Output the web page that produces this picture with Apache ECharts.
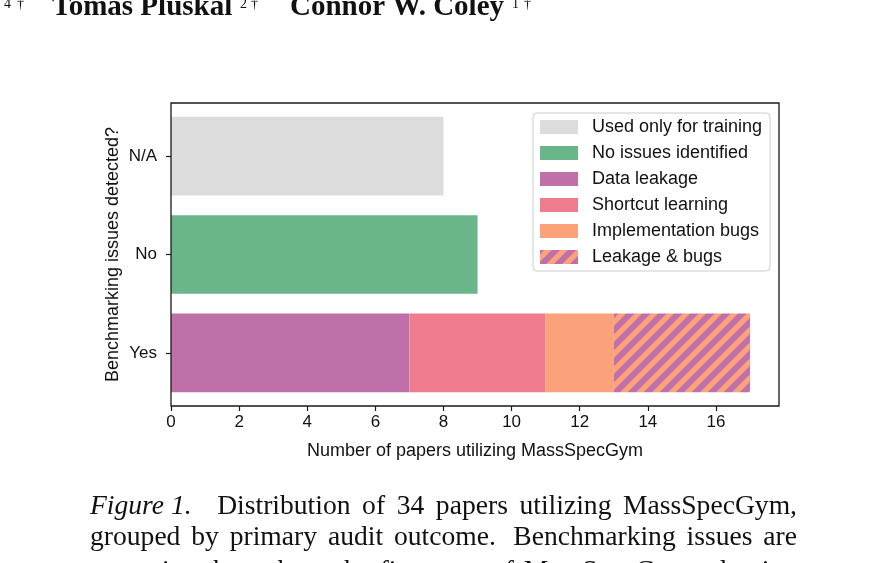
<!DOCTYPE html>
<html><head><meta charset="utf-8">
<script src="https://cdn.jsdelivr.net/npm/echarts@6/dist/echarts.min.js"></script>
<style>html,body{margin:0;padding:0;background:#fff;overflow:hidden}#c{width:883px;height:563px}</style>
</head><body><div id="c"></div>
<script>
// ---- data ----
const categories = ['Yes', 'No', 'N/A'];
const seriesNames = ['Used only for training', 'No issues identified', 'Data leakage', 'Shortcut learning', 'Implementation bugs', 'Leakage & bugs'];
const usedOnlyForTraining = [null, null, 8];
const noIssuesIdentified = [null, 9, null];
const dataLeakage = [7, null, null];
const shortcutLearning = [4, null, null];
const implementationBugs = [2, null, null];
const leakageAndBugs = [4, null, null];
const xTickValues = [0, 2, 4, 6, 8, 10, 12, 14, 16];
const xMin = 0, xMax = 17.85;
const xAxisTitle = 'Number of papers utilizing MassSpecGym';
const yAxisTitle = 'Benchmarking issues detected?';
const captionLines = [
  ['Figure 1.', 'Distribution', 'of', '34', 'papers', 'utilizing', 'MassSpecGym,'],
  ['grouped', 'by', 'primary', 'audit', 'outcome.', 'Benchmarking', 'issues', 'are'],
  ['pervasive', 'throughout', 'the', 'first', 'year', 'of', 'MassSpecGym', 'adoption']
];

// ---- style ----
const GRAY = '#dcdcdc', GREEN = '#6bb58b', PURPLE = '#c070a8', PINK = '#ef7b8e', ORANGE = '#fca27a';
const SANS = '"Liberation Sans", Arial, sans-serif';
const SERIF = '"Liberation Serif", "Times New Roman", serif';

function stripePattern() {
  const p = 16, c = document.createElement('canvas');
  c.width = p; c.height = p;
  const g = c.getContext('2d');
  g.fillStyle = ORANGE; g.fillRect(0, 0, p, p);
  g.strokeStyle = PURPLE; g.lineWidth = p / Math.SQRT2 * 0.52;
  for (let k = -2; k <= 2; k++) {
    g.beginPath(); g.moveTo(k * p - p, 2 * p); g.lineTo(k * p + 2 * p, -p); g.stroke();
  }
  return { image: c, repeat: 'repeat' };
}

const colors = [GRAY, GREEN, PURPLE, PINK, ORANGE, stripePattern()];
const values = [usedOnlyForTraining, noIssuesIdentified, dataLeakage, shortcutLearning, implementationBugs, leakageAndBugs];

// ---- caption justification ----
const mctx = document.createElement('canvas').getContext('2d');
function measure(t, font) { mctx.font = font; return mctx.measureText(t).width; }
const graphics = [];
const capSize = 27.6, capLeft = 90, capRight = 797;
const capY = [507, 538, 572];
captionLines.forEach((words, li) => {
  const fonts = words.map((w, i) => (li === 0 && i === 0 ? 'italic ' : '') + capSize + 'px ' + SERIF);
  const widths = words.map((w, i) => measure(w, fonts[i]));
  const weights = words.slice(1).map((w, i) => {
    const prev = words[i];
    if (li === 0 && i === 0) return 2.2;
    if (/\.$/.test(prev)) return 1.6;
    return 1;
  });
  const totalW = widths.reduce((a, b) => a + b, 0);
  const totalWeight = weights.reduce((a, b) => a + b, 0);
  const unit = (capRight - capLeft - totalW) / totalWeight;
  let x = capLeft;
  words.forEach((w, i) => {
    graphics.push({
      type: 'text', x: x, y: capY[li],
      style: { text: w, font: fonts[i], fill: '#111', verticalAlign: 'middle' }
    });
    x += widths[i] + (i < weights.length ? weights[i] * unit : 0);
  });
});

// header (cut-off author line)
const headerParts = [
  { t: '4', x: 4, sup: true }, { t: '†', x: 17, sup: true },
  { t: 'Tomas Pluskal', x: 52 }, { t: '2', x: 240, sup: true }, { t: '†', x: 251, sup: true },
  { t: 'Connor W. Coley', x: 290 }, { t: '1', x: 512, sup: true }, { t: '†', x: 524, sup: true }
];
headerParts.forEach(p => {
  graphics.push({
    type: 'text', x: p.x, y: p.sup ? 4 : 8,
    style: { text: p.t, font: (p.sup ? '' : 'bold ') + (p.sup ? 14 : 29) + 'px ' + SERIF, fill: '#111', verticalAlign: 'middle' }
  });
});

// plot frame
graphics.push({
  type: 'rect', z: 100, shape: { x: 171, y: 103, width: 608, height: 303 },
  style: { fill: null, stroke: '#1a1a1a', lineWidth: 1.3 }, silent: true
});

const chart = echarts.init(document.getElementById('c'), null, { renderer: 'canvas' });
chart.setOption({
  backgroundColor: '#fff',
  animation: false,
  textStyle: { fontFamily: SANS },
  grid: { left: 171, right: 104, top: 107, bottom: 161, containLabel: false },
  xAxis: {
    type: 'value', min: xMin, max: xMax, offset: 4,
    axisLine: { show: false },
    axisTick: { show: true, length: 5, customValues: xTickValues, lineStyle: { color: '#1a1a1a', width: 1.2 } },
    axisLabel: { fontSize: 17, color: '#111', margin: 8, fontFamily: SANS, customValues: xTickValues },
    splitLine: { show: false },
    name: xAxisTitle, nameLocation: 'middle', nameGap: 36,
    nameTextStyle: { fontSize: 18, color: '#111', fontFamily: SANS }
  },
  yAxis: {
    type: 'category', data: categories,
    axisLine: { show: false },
    axisTick: { show: true, length: 5, alignWithLabel: true, lineStyle: { color: '#1a1a1a', width: 1.2 } },
    axisLabel: { fontSize: 17, color: '#111', margin: 14, fontFamily: SANS },
    name: yAxisTitle, nameLocation: 'middle', nameGap: 49, nameMoveOverlap: false,
    nameTextStyle: { fontSize: 18, color: '#111', fontFamily: SANS }
  },
  legend: {
    orient: 'vertical', left: 533, top: 113,
    data: seriesNames,
    itemWidth: 38, itemHeight: 14, itemGap: 8,
    icon: 'rect',
    padding: [5, 8, 5, 7],
    backgroundColor: 'rgba(255,255,255,0.85)', borderColor: '#cccccc', borderWidth: 1, borderRadius: 4,
    textStyle: { fontSize: 18, color: '#111', fontFamily: SANS, padding: [0, 0, 0, 9] }
  },
  series: seriesNames.map((name, i) => ({
    name: name, type: 'bar', stack: 'total', barWidth: 78.7,
    data: values[i],
    itemStyle: { color: colors[i] },
    emphasis: { disabled: true }
  })),
  graphic: graphics
});
</script></body></html>
